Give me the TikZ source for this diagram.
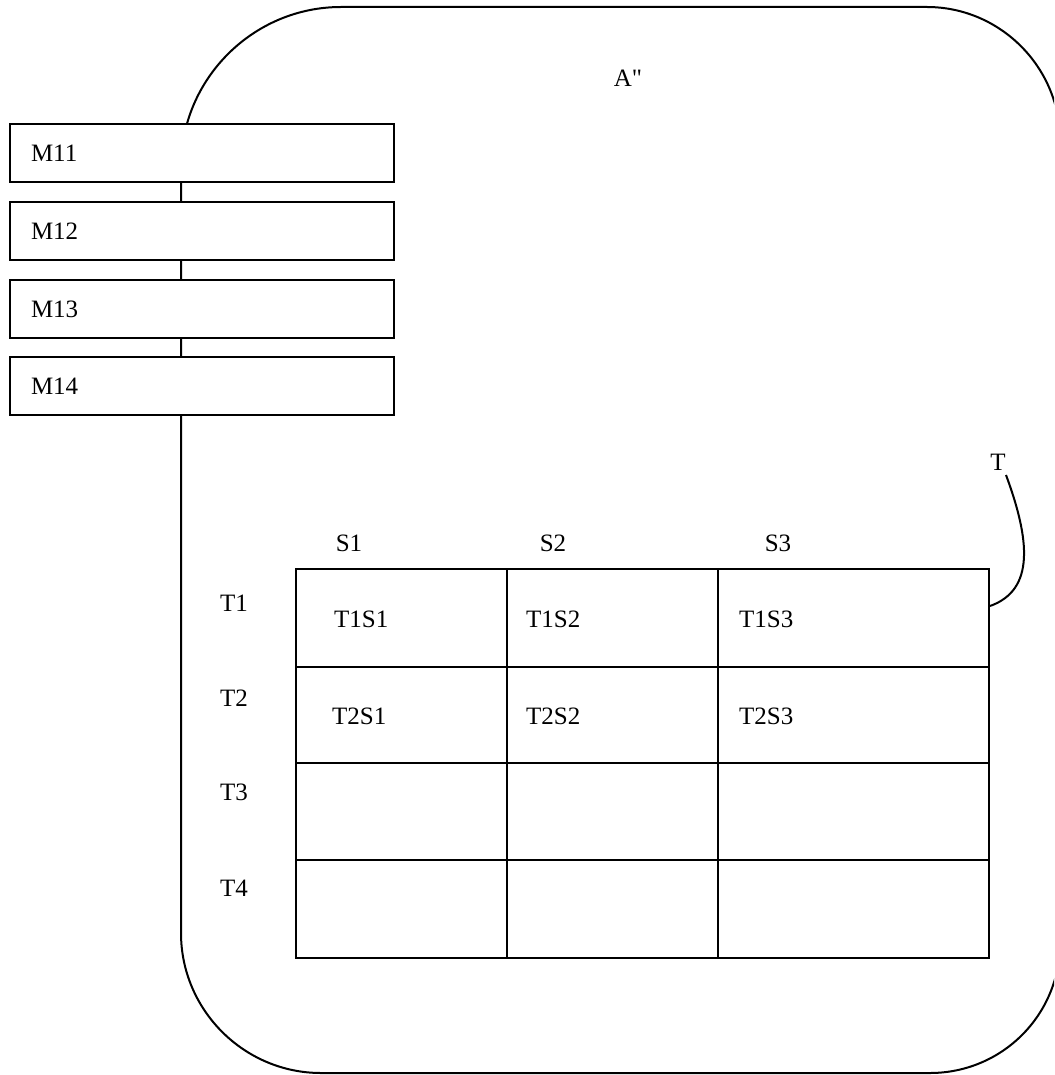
\documentclass[tikz,border=0pt]{standalone}
\usepackage{fontspec}
\setmainfont{Liberation Serif}
\newfontfamily\rawserif{Liberation Serif}
\begin{document}
\begin{tikzpicture}[x=1pt,y=-1pt,
  every node/.style={font=\fontsize{25}{30}\selectfont},
  outline/.style={line width=2pt},
  mbox/.style={draw,line width=2pt,fill=white,anchor=west,minimum width=384pt,minimum height=58pt,
    inner xsep=21pt,text width=342pt,align=left},
  lbl/.style={inner sep=0pt},
  cell/.style={inner sep=0pt,anchor=west}]
\useasboundingbox (0,0) rectangle (1054,1075);
\clip (0,0) rectangle (1054,1075);
% outer rounded shape
\draw[outline] (181,167) .. controls (181,79) and (253,7) .. (341,7)
  -- (927,7) .. controls (1000,7) and (1060,67) .. (1060,140)
  -- (1060,943) .. controls (1060,1015) and (1002,1073) .. (930,1073)
  -- (321,1073) .. controls (244,1073) and (181,1010) .. (181,933) -- cycle;
\node[lbl] (A) at (628,78) {\rawserif A"};
% module boxes
\node[mbox] (m11) at (9,153) {M11};
\node[mbox] (m12) at (9,231) {M12};
\node[mbox] (m13) at (9,309) {M13};
\node[mbox] (m14) at (9,386) {M14};
% table
\coordinate (tl) at (296,569);
\coordinate (br) at (989,958);
\draw[line width=2pt] (tl) rectangle (br);
\foreach \x in {507,718} \draw[line width=2pt] (\x,569) -- (\x,958);
\foreach \y in {667,763,860} \draw[line width=2pt] (296,\y) -- (989,\y);
% column/row headers
\node[lbl] (s1) at (349,543) {S1};
\node[lbl] (s2) at (553,543) {S2};
\node[lbl] (s3) at (778,543) {S3};
\node[lbl] (t1) at (234,603) {T1};
\node[lbl] (t2) at (234,698) {T2};
\node[lbl] (t3) at (234,792) {T3};
\node[lbl] (t4) at (234,888) {T4};
% cells
\node[cell] (c11) at (334,619) {T1S1};
\node[cell] (c12) at (526,619) {T1S2};
\node[cell] (c13) at (739,619) {T1S3};
\node[cell] (c21) at (332,716) {T2S1};
\node[cell] (c22) at (526,716) {T2S2};
\node[cell] (c23) at (739,716) {T2S3};
% T leader
\node[lbl] (T) at (998,462) {T};
\coordinate (tend) at (990,606);
\draw[line width=2pt] (1006,475) .. controls (1030,540) and (1035,590) .. (tend);
\end{tikzpicture}
\end{document}
